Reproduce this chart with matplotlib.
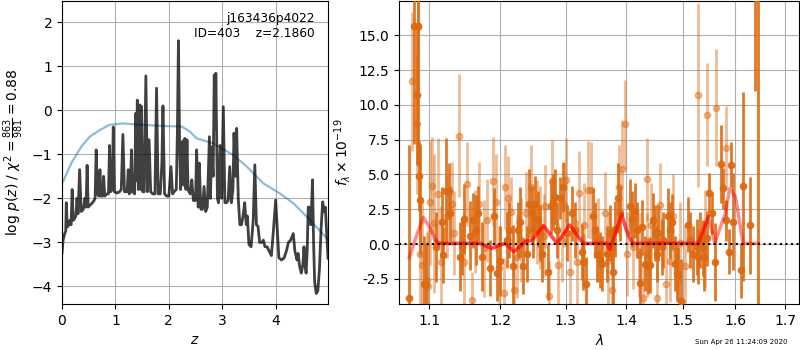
import matplotlib
matplotlib.use('Agg')
import matplotlib.pyplot as plt
from matplotlib.ticker import FixedLocator, NullLocator
import numpy as np

# redshift fit, left panel
z_prior = [0.02, 0.175, 0.36, 0.52, 0.71, 0.89, 1.14, 1.46, 1.96, 2.24, 2.39, 2.52, 2.83, 3.21,
           3.46, 3.77, 4.08, 4.33, 4.64, 4.99]
logp_prior = [-1.62, -1.20, -0.83, -0.60, -0.45, -0.33, -0.30, -0.33, -0.36, -0.37, -0.48, -0.64,
              -0.75, -1.02, -1.28, -1.66, -1.89, -2.11, -2.49, -2.95]

z_grid = [0.00, 0.02, 0.05, 0.07, 0.08, 0.10, 0.13, 0.15, 0.17, 0.19, 0.21, 0.24, 0.26, 0.28, 0.30,
          0.33, 0.36, 0.40, 0.43, 0.45, 0.47, 0.49, 0.53, 0.57, 0.60, 0.62, 0.64, 0.66, 0.69, 0.71,
          0.73, 0.76, 0.78, 0.80, 0.84, 0.87, 0.89, 0.91, 0.94, 0.96, 0.98, 1.03, 1.08, 1.11, 1.14,
          1.17, 1.20, 1.22, 1.24, 1.26, 1.28, 1.30, 1.32, 1.36, 1.38, 1.39, 1.41, 1.43, 1.46, 1.475,
          1.49, 1.51, 1.54, 1.57, 1.60, 1.63, 1.66, 1.70, 1.74, 1.77, 1.80, 1.84, 1.87, 1.89, 1.92,
          1.96, 2.00, 2.04, 2.07, 2.10, 2.14, 2.16, 2.18, 2.20, 2.22, 2.24, 2.26, 2.28, 2.30, 2.32,
          2.34, 2.36, 2.40, 2.43, 2.46, 2.50, 2.52, 2.55, 2.57, 2.60, 2.63, 2.66, 2.69, 2.72, 2.76,
          2.78, 2.80, 2.83, 2.85, 2.87, 2.88, 2.91, 2.93, 2.96, 2.99, 3.02, 3.05, 3.08, 3.11, 3.14,
          3.17, 3.20, 3.22, 3.25, 3.27, 3.30, 3.33, 3.36, 3.39, 3.42, 3.45, 3.47, 3.50, 3.54, 3.58,
          3.61, 3.64, 3.67, 3.70, 3.74, 3.77, 3.80, 3.84, 3.88, 3.92, 3.96, 4.00, 4.03, 4.06, 4.11,
          4.16, 4.20, 4.24, 4.28, 4.33, 4.36, 4.40, 4.42, 4.45, 4.48, 4.51, 4.53, 4.55, 4.57, 4.59,
          4.61, 4.63, 4.66, 4.69, 4.71, 4.73, 4.76, 4.79, 4.82, 4.85, 4.88, 4.91, 4.93, 4.96, 4.98]
logp = [-3.25, -2.95, -2.80, -2.75, -2.10, -2.65, -2.60, -2.50, -2.60, -1.80, -2.50, -2.45, -2.40,
        -2.00, -2.35, -1.35, -2.30, -2.25, -2.00, -2.20, -1.25, -2.20, -2.15, -2.10, -2.05, -2.00,
        -0.90, -1.90, -1.95, -1.35, -1.95, -1.95, -1.50, -1.95, -1.90, -1.90, -0.80, -1.85, -1.80,
        -0.38, -1.85, -1.88, -1.85, -1.80, -0.55, -1.85, -1.85, -1.85, -1.35, -1.90, -1.85, -0.90,
        -1.85, -1.90, -0.07, -1.60, 0.23, -1.80, 0.12, -1.80, 0.09, -1.85, -1.85, 0.78, -1.85,
        -0.67, -1.85, -1.90, -1.90, 0.50, -1.90, -1.90, -1.20, 0.10, -1.90, -1.95, -1.95, -1.28,
        -1.90, -1.85, -1.80, -0.50, 1.58, -0.60, -1.80, -1.50, -0.70, -1.70, -0.64, -1.80, -0.67,
        -1.80, -1.90, -1.58, -2.05, -2.05, -0.90, -2.20, -1.20, -2.25, -2.25, -1.73, -2.30, -2.20,
        -0.60, -2.00, -0.83, -1.50, 0.80, -0.40, 0.84, -2.00, -2.10, -0.80, -2.00, 0.08, -2.10,
        -2.10, -2.05, -1.28, -2.10, -1.80, -0.52, -1.50, -0.41, -2.00, -2.60, -2.60, -2.40, -2.10,
        -2.60, -2.40, -3.05, -3.10, -2.50, -1.24, -2.60, -2.64, -3.00, -3.00, -2.95, -3.10, -3.10,
        -3.20, -3.30, -2.70, -2.04, -2.70, -3.35, -3.40, -3.35, -3.20, -3.00, -2.95, -2.80, -3.20,
        -3.40, -3.25, -3.55, -3.70, -3.50, -3.10, -3.50, -3.70, -3.20, -2.20, -2.20, -2.60, -1.58,
        -3.00, -3.90, -4.16, -4.10, -3.60, -2.70, -2.08, -2.30, -2.20, -2.90, -3.36]

# spectrum, right panel
dark_lam = [1.0734, 1.0800, 1.0832, 1.0845, 1.0866, 1.0875, 1.0929, 1.0957, 1.1091, 1.1168, 1.1180,
            1.1227, 1.1273, 1.1283, 1.1425, 1.1445, 1.1477, 1.1562, 1.1609, 1.1647, 1.1680, 1.1729,
            1.1849, 1.1911, 1.1955, 1.1990, 1.2093, 1.2130, 1.2192, 1.2266, 1.2292, 1.2342, 1.2393,
            1.2428, 1.2479, 1.2494, 1.2520, 1.2571, 1.2597, 1.2623, 1.2726, 1.2768, 1.2804, 1.2831,
            1.2858, 1.2910, 1.2962, 1.3020, 1.3095, 1.3148, 1.3257, 1.3282, 1.3326, 1.3446, 1.3474,
            1.3502, 1.3557, 1.3585, 1.3668, 1.3724, 1.3752, 1.3780, 1.3808, 1.3864, 1.3893, 1.4065,
            1.4094, 1.4151, 1.4181, 1.4238, 1.4278, 1.4325, 1.4383, 1.4413, 1.4461, 1.4502, 1.4530,
            1.4561, 1.4620, 1.4650, 1.4739, 1.4771, 1.4801, 1.4861, 1.4892, 1.4922, 1.4965, 1.5104,
            1.5135, 1.5197, 1.5260, 1.5290, 1.5322, 1.5385, 1.5400, 1.5450, 1.5497, 1.5543, 1.5606,
            1.5715, 1.5767, 1.5815, 1.5866, 1.5920, 1.5953, 1.6110, 1.6157, 1.6289, 1.6390, 1.6440]
dark_flux = [-3.86, 15.7, 10.7, 15.7, 4.9, 3.2, -2.9, -2.9, -0.2, 1.6, -0.8, 3.8, 3.8, 2.2, -0.9,
             -0.2, 1.8, 0.6, 1.7, 1.0, 2.2, -0.9, -1.7, 2.0, -2.1, -1.2, 0.3, 1.0, -1.6, 1.0, 1.6,
             -1.6, -0.7, 2.9, 2.2, 1.0, 2.9, 1.8, 0.8, -0.7, -2.0, 2.7, 3.0, 3.4, 1.0, 3.3, 4.1, 0.8,
             2.2, 1.0, -0.55, -1.3, -2.9, 2.0, 1.0, -0.7, -1.15, -1.4, -0.7, 0.8, -0.3, -2.0, 1.1,
             3.3, 2.2, 2.7, 1.8, 2.4, 1.0, -2.8, 1.2, -1.4, -1.6, -1.5, 1.7, 0.8, -0.7, 0.8, -0.2,
             0.3, 2.0, 1.0, 1.6, -1.4, -2.1, -2.2, -4.1, 1.4, 0.3, -0.7, -0.2, -0.9, 0.3, -0.3,
             -0.9, 0.4, 3.7, 2.25, -1.3, 5.75, 4.0, 1.7, -0.55, 5.7, 1.6, -1.9, 4.15, 1.35, 25.0,
             20.0]
dark_err = [11.0, 8.5, 5.0, 10.0, 2.5, 4.0, 3.5, 3.0, 2.5, 2.5, 2.0, 3.8, 2.0, 2.0, 2.5, 2.0, 2.5,
            2.5, 2.0, 2.5, 2.0, 2.5, 2.0, 2.0, 2.0, 2.5, 2.0, 2.0, 3.0, 2.0, 2.5, 2.0, 2.0, 2.5, 2.0,
            2.0, 2.0, 2.0, 2.0, 2.0, 2.0, 2.0, 2.0, 2.0, 2.0, 1.5, 1.8, 2.0, 2.0, 2.0, 2.0, 2.0, 2.0,
            2.0, 2.0, 2.0, 2.0, 2.0, 2.0, 2.0, 1.5, 2.5, 2.0, 2.5, 2.0, 2.0, 2.0, 2.0, 2.0, 2.5, 2.0,
            2.0, 2.0, 2.0, 2.0, 2.0, 2.0, 2.0, 2.0, 2.0, 2.0, 2.0, 2.0, 2.0, 2.0, 2.0, 3.0, 2.0, 2.0,
            2.0, 2.0, 2.0, 2.0, 2.0, 2.5, 2.0, 1.4, 1.5, 2.8, 2.8, 1.5, 1.5, 1.6, 1.6, 3.5, 2.0, 6.8,
            3.5, 14.0, 30.0]

light_lam = [1.0765, 1.0836, 1.0855, 1.0880, 1.0905, 1.0965, 1.0985, 1.1009, 1.1032, 1.1060, 1.1122,
             1.1160, 1.1240, 1.1306, 1.1340, 1.1412, 1.1475, 1.1515, 1.1586, 1.1630, 1.1690, 1.1760,
             1.1801, 1.1888, 1.1935, 1.1985, 1.2050, 1.2068, 1.2117, 1.2157, 1.2200, 1.2242, 1.2306,
             1.2380, 1.2459, 1.2546, 1.2600, 1.2663, 1.2674, 1.2742, 1.2788, 1.2883, 1.2935, 1.2978,
             1.3000, 1.3068, 1.3175, 1.3213, 1.3300, 1.3364, 1.3408, 1.3530, 1.3640, 1.3690, 1.3752,
             1.3880, 1.3922, 1.3979, 1.4008, 1.4120, 1.4210, 1.4296, 1.4355, 1.4366, 1.4430, 1.4543,
             1.4590, 1.4698, 1.4760, 1.4830, 1.4950, 1.5050, 1.5290, 1.5417, 1.5448, 1.5625, 1.5820]
light_flux = [11.7, 8.6, 15.6, -0.7, -1.5, -2.6, -3.0, 3.0, 4.2, 1.5, 3.6, -1.3, 2.0, 2.9, 0.8,
              7.8, -1.3, 4.3, -4.0, 0.9, 2.9, -0.3, 1.7, 4.5, 3.0, -1.7, -3.5, 4.1, 3.3, 2.3, -3.3,
              -0.9, 0.3, 2.2, 4.1, 1.6, 1.2, 0.6, 2.7, -3.7, 4.5, -1.5, 0.3, 2.8, 4.6, -2.0, -1.3,
              3.7, 1.4, 3.9, 3.85, 0.3, 2.2, -1.2, -3.3, 4.1, 5.4, 8.6, -0.7, -0.2, -0.8, -3.9,
              -0.8, 4.65, 1.4, -3.9, 2.8, -2.9, -1.2, 2.0, 0.05, -1.6, 10.7, 0.35, 9.3, 9.8, 6.9]
light_err = [5.0, 5.0, 5.0, 4.0, 4.5, 3.5, 4.0, 4.5, 3.5, 5.0, 4.0, 4.0, 3.0, 3.0, 3.0, 4.4, 3.5,
             3.0, 2.0, 3.0, 3.0, 3.5, 3.0, 3.2, 3.5, 3.0, 2.5, 3.0, 3.0, 2.5, 2.5, 3.0, 3.0, 3.0,
             3.0, 3.0, 3.0, 3.0, 3.0, 2.5, 3.0, 3.0, 3.0, 3.0, 3.0, 3.0, 3.0, 3.0, 3.0, 3.5, 3.5,
             3.0, 3.0, 3.5, 3.0, 3.0, 3.5, 3.2, 3.0, 3.0, 3.0, 2.5, 3.0, 3.0, 3.0, 2.5, 3.0, 3.0,
             3.0, 3.0, 3.0, 3.0, 6.6, 3.5, 3.7, 4.2, 3.0]

model_lam = [1.0734, 1.084, 1.092, 1.100, 1.109, 1.113, 1.170, 1.187, 1.197, 1.207, 1.220, 1.239,
             1.247, 1.265, 1.286, 1.306, 1.328, 1.367, 1.372, 1.381, 1.392, 1.400, 1.410, 1.529,
             1.548, 1.560, 1.580, 1.589, 1.600, 1.615, 1.646]
model_flux = [-0.96, 0.77, 1.92, 1.25, 0.24, 0.05, 0.05, -0.31, -0.12, 0.05, -0.55, 0.24, 0.24,
              1.32, 0.05, 1.37, 0.05, 0.05, -0.38, 0.77, 2.13, 1.0, 0.05, 0.05, 1.97, 0.05, 2.2,
              4.0, 3.4, 0.05, 0.05]

lam_ticks = [1.1, 1.2, 1.3, 1.4, 1.5, 1.6, 1.7]
flux_ticks = [-2.5, 0, 2.5, 5, 7.5, 10, 12.5, 15]

c_orange = '#dc6a12'

fig = plt.figure(figsize=(8, 3.5), dpi=100)

ax = fig.add_axes([0.0775, 0.1314, 0.3325, 0.8657])
ax.plot(z_prior, logp_prior, color='tab:blue', alpha=0.5, lw=1.6)
ax.plot(z_grid, logp, color='k', alpha=0.75, lw=2)
ax.set_xlim(0, 4.98)
ax.set_ylim(-4.4, 2.48)
ax.set_xticks([0, 1, 2, 3, 4])
ax.grid(True)
ax.set_xlabel(r'$z$')
ax.set_ylabel(r'log $p(z)$' + ' / ' + r'$\chi^2=\frac{863}{981}=0.88$')
ax.text(0.95, 0.965, 'j163436p4022\nID=403    z=2.1860', ha='right', va='top',
        transform=ax.transAxes, fontsize=8.7)

ax2 = fig.add_axes([0.4991, 0.1314, 0.5, 0.8657])
ax2.errorbar(light_lam, light_flux, yerr=light_err, fmt='o', color=c_orange, ms=4.5,
             elinewidth=2, capsize=0, alpha=0.45, zorder=2)
ax2.errorbar(dark_lam, dark_flux, yerr=dark_err, fmt='o', color=c_orange, ms=4.5,
             elinewidth=2, capsize=0, alpha=0.9, zorder=3)
mlam = np.array(model_lam)
mflux = np.array(model_flux)
ax2.plot(mlam, mflux, color='r', alpha=0.45, lw=2.5, zorder=4)
sub = (mlam >= 1.109) & (mlam <= 1.548)
ax2.plot(mlam[sub], mflux[sub], color='r', alpha=0.45, lw=2.5, zorder=4)
ax2.axhline(0, color='k', ls=':', lw=1.5, zorder=5)

ax2.set_xscale('log')
ax2.set_xlim(1.0603, 1.730)
ax2.set_ylim(-4.31, 17.47)
ax2.xaxis.set_major_locator(FixedLocator(lam_ticks))
ax2.xaxis.set_minor_locator(NullLocator())
ax2.set_xticklabels(['%.1f' % t for t in lam_ticks])
ax2.set_yticks(flux_ticks)
ax2.set_yticklabels(['%.1f' % t for t in flux_ticks])
ax2.grid(True)
ax2.set_xlabel(r'$\lambda$')
ax2.set_ylabel(r'$f_\lambda\times10^{-19}$')

fig.text(0.984, 0.015, 'Sun Apr 26 11:24:09 2020', ha='right', va='bottom', fontsize=5)

fig.savefig('out.png', dpi=100)
